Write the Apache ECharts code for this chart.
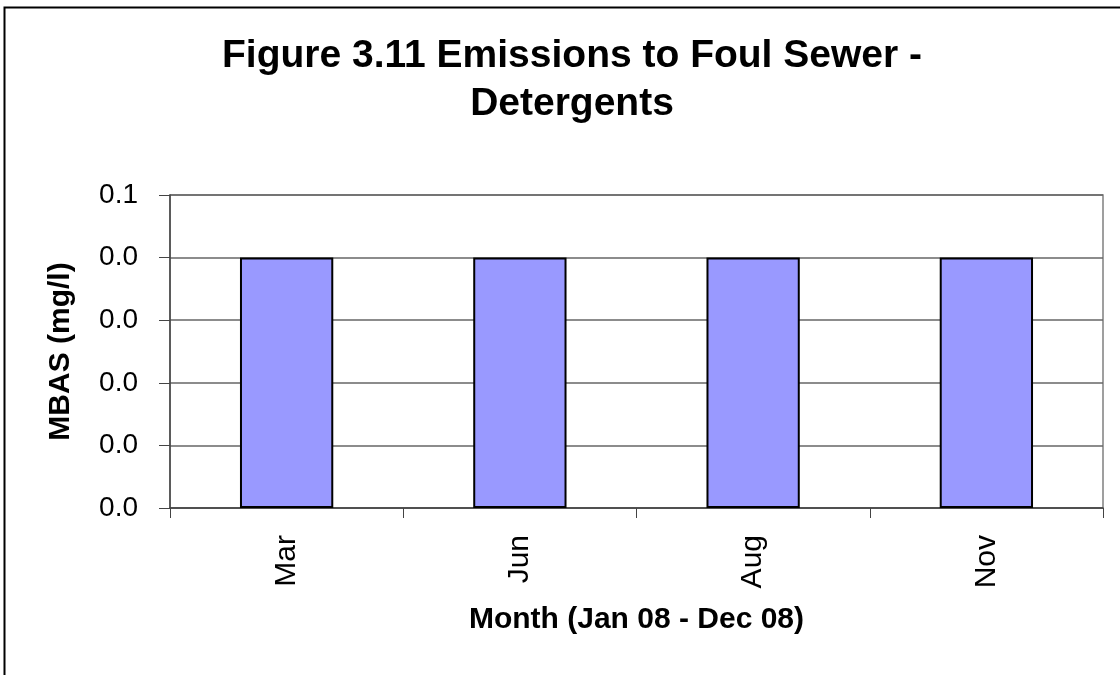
<html>
<head>
<meta charset="utf-8">
<script src="https://cdn.jsdelivr.net/npm/echarts@6/dist/echarts.min.js"></script>
<style>
  html, body { margin: 0; padding: 0; background: #fff; }
  #main { width: 1120px; height: 675px; }
</style>
</head>
<body>
<div id="main"></div>
<script>
var months = ['Mar', 'Jun', 'Aug', 'Nov'];
var mbas = [0.04, 0.04, 0.04, 0.04];

var chart = echarts.init(document.getElementById('main'));
var font = 'Liberation Sans, Arial, sans-serif';

chart.setOption({
    animation: false,
    backgroundColor: '#fff',
    title: {
        text: 'Figure 3.11 Emissions to Foul Sewer -\nDetergents',
        left: 567,
        top: 27,
        textAlign: 'center',
        textStyle: {
            fontFamily: font,
            fontSize: 39,
            fontWeight: 'bold',
            color: '#000',
            lineHeight: 48
        }
    },
    graphic: [{
        type: 'rect',
        shape: { x: 4.5, y: 7.5, width: 1200, height: 800 },
        style: { fill: null, stroke: '#000', lineWidth: 2 },
        silent: true
    }],
    grid: {
        left: 170,
        right: 17,
        top: 195,
        bottom: 167,
        show: true,
        borderColor: '#808080',
        borderWidth: 1.5
    },
    xAxis: {
        type: 'category',
        data: months,
        name: 'Month (Jan 08 - Dec 08)',
        nameLocation: 'middle',
        nameGap: 97,
        nameTextStyle: { fontFamily: font, fontSize: 30, fontWeight: 'bold', color: '#000' },
        axisLine: { lineStyle: { color: '#444', width: 1.5 } },
        axisTick: { show: true, alignWithLabel: false, length: 10, lineStyle: { color: '#444' } },
        axisLabel: { rotate: 90, margin: 27, fontFamily: font, fontSize: 30, color: '#000' }
    },
    yAxis: {
        type: 'value',
        min: 0,
        max: 0.05,
        interval: 0.01,
        name: 'MBAS (mg/l)',
        nameLocation: 'middle',
        nameGap: 94,
        nameTextStyle: { fontFamily: font, fontSize: 30, fontWeight: 'bold', color: '#000' },
        axisLine: { show: true, lineStyle: { color: '#444', width: 1.5 } },
        axisTick: { show: true, length: 11, lineStyle: { color: '#444' } },
        axisLabel: {
            margin: 32,
            fontFamily: font,
            fontSize: 28,
            color: '#000',
            formatter: function (v) { return (Math.round(v * 10 + 1e-9) / 10).toFixed(1); }
        },
        splitLine: { show: true, lineStyle: { color: '#666', width: 1.5 } }
    },
    series: [{
        type: 'bar',
        data: mbas,
        barWidth: '40%',
        itemStyle: { color: '#9999FF', borderColor: '#000', borderWidth: 2 }
    }]
});
</script>
</body>
</html>
